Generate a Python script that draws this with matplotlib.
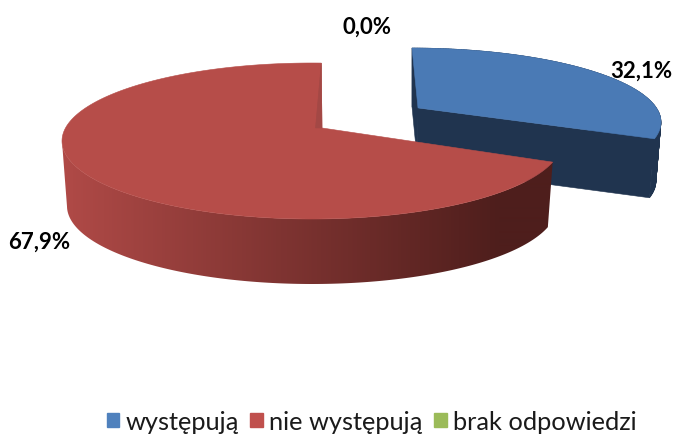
import numpy as np
import matplotlib
matplotlib.use("Agg")
import matplotlib.pyplot as plt
from matplotlib.patches import Polygon, Patch
from matplotlib.colors import LinearSegmentedColormap

categories = ["występują", "nie występują", "brak odpowiedzi"]
values = [32.1, 67.9, 0.0]
labels = ["32,1%", "67,9%", "0,0%"]
legend_colors = ["#4F81BD", "#C0504D", "#9BBB59"]

plt.rcParams['font.family'] = ['Lato', 'DejaVu Sans']

fig = plt.figure(figsize=(6.74, 4.35), dpi=100)
ax = fig.add_axes([0, 0, 1, 1])
ax.set_xlim(0, 674)
ax.set_ylim(435, 0)
ax.axis("off")


def project(theta, geom, wall=False):
    """theta: degrees clockwise from top -> pixel position on the tilted disc."""
    cx, cy, a, b, ax_off, ay_off, rot, dep, a2 = geom
    s = np.hypot(ax_off, ay_off)
    alpha = np.degrees(np.arctan2(ax_off, ay_off))
    t = np.radians(np.asarray(theta, float) + rot - alpha)
    u, v = np.sin(t), np.cos(t)
    den = 1 + s * v
    up = np.sqrt(1 - s * s) * u / den
    vp = (v + s) / den
    al = np.radians(alpha)
    ex = up * np.cos(al) + vp * np.sin(al)
    ey = -up * np.sin(al) + vp * np.cos(al)
    if wall:
        return cx + a2 * ex, cy + dep - b * ey
    return cx + a * ex, cy - b * ey


def apex(geom, wall=False):
    cx, cy, a, b, ax_off, ay_off, rot, dep, a2 = geom
    if wall:
        return cx + a2 * ax_off, cy + dep - b * ay_off
    return cx + a * ax_off, cy - b * ay_off


geom_blue = (411, 123, 250, 74, 0.028, 0.19, -1.5, 59, 245)
geom_red = (312, 142, 250, 78, 0.04, 0.167, 0.0, 65, 245)

start_blue, end_blue = 0.0, 360 * values[0] / 100
start_red, end_red = end_blue, end_blue + 360 * values[1] / 100


def poly(xs, ys, color, z):
    p = Polygon(np.column_stack([xs, ys]), closed=True, facecolor=color,
                edgecolor=color, lw=0.4, zorder=z)
    ax.add_patch(p)
    return p


# ---- blue slice
th = np.linspace(start_blue, end_blue, 160)
navy = "#20344F"
x0, y0 = project(start_blue, geom_blue)
x0b, y0b = project(start_blue, geom_blue, True)
axb, ayb = apex(geom_blue, True)
ax0, ay0 = apex(geom_blue)
poly([x0, x0b, axb, ax0], [y0, y0b, ayb, ay0], navy, 1)
x1, y1 = project(end_blue, geom_blue)
x1b, y1b = project(end_blue, geom_blue, True)
poly([ax0, x1, x1b, axb], [ay0, y1, y1b, ayb], navy, 1)
xt, yt = project(th, geom_blue)
xb, yb = project(th, geom_blue, True)
for i in range(len(th) - 1):
    poly([xt[i], xt[i + 1], xb[i + 1], xb[i]], [yt[i], yt[i + 1], yb[i + 1], yb[i]], navy, 1)
poly(np.r_[ax0, xt], np.r_[ay0, yt], "#4A7AB5", 2)

# ---- red slice
th = np.linspace(start_red, end_red, 300)
xt, yt = project(th, geom_red)
xb, yb = project(th, geom_red, True)
wall_cmap = LinearSegmentedColormap.from_list("wall", ["#B04A47", "#4E1E1C"])
grad = np.clip((np.arange(0, 674) - 62) / (500 - 62), 0, 1)[None, :]
im = ax.imshow(grad, cmap=wall_cmap, extent=(0, 674, 435, 0), aspect="auto",
               zorder=3, vmin=0, vmax=1, interpolation="bilinear")
left = int(np.argmin(xt))
clip_poly = Polygon(np.column_stack([np.r_[xb[:left + 1], xt[left::-1]],
                                     np.r_[yb[:left + 1], yt[left::-1]]]),
                    closed=True, transform=ax.transData, facecolor="none", edgecolor="none")
ax.add_patch(clip_poly)
im.set_clip_path(clip_poly)
ax.set_xlim(0, 674)
ax.set_ylim(435, 0)
ax0, ay0 = apex(geom_red)
poly(np.r_[ax0, xt], np.r_[ay0, yt], "#B64D49", 4)
poly([xt[-1], ax0, ax0 - 6.5], [yt[-1], ay0, ay0], "#A34845", 5)

# ---- data labels
label_pos = [(641, 71), (39, 242), (367, 27)]
for txt, (lx, ly) in zip(labels, label_pos):
    ax.text(lx, ly, txt, ha="center", va="center", fontsize=16, fontweight="bold",
            color="black", zorder=6)

# ---- legend
handles = [Patch(facecolor=c, edgecolor=c, label=n) for c, n in zip(legend_colors, categories)]
leg = ax.legend(handles=handles, ncol=3, loc="center", bbox_to_anchor=(371.5 / 674, 1 - 422.5 / 435),
                frameon=False, fontsize=18.3, handlelength=0.5, handleheight=0.5,
                handletextpad=0.24, columnspacing=0.45, borderpad=0, borderaxespad=0)
for t in leg.get_texts():
    t.set_color("#1a1a1a")

fig.savefig("out.png", dpi=100)
